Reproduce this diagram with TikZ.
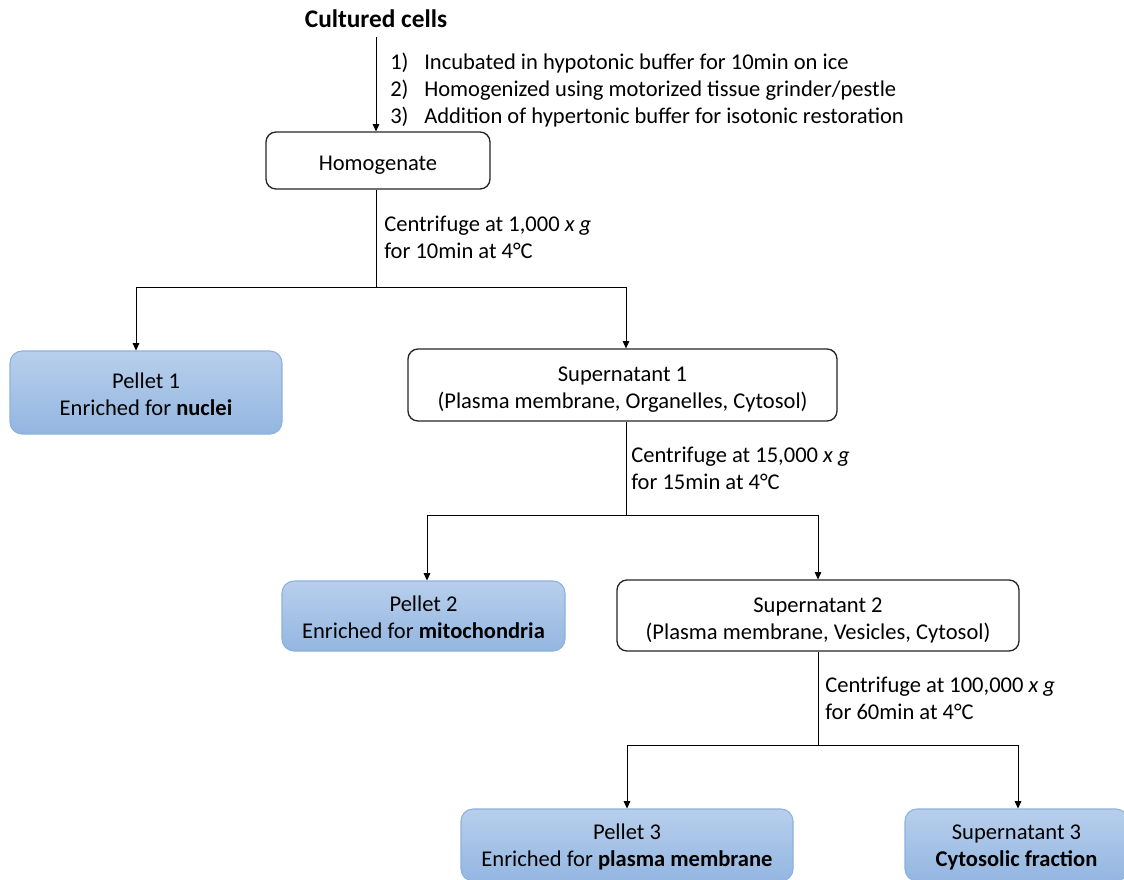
\documentclass[tikz,border=0pt]{standalone}
\usepackage{fontspec}
\setmainfont{Carlito}
\usetikzlibrary{arrows.meta}
\definecolor{ptop}{RGB}{184,207,236}
\definecolor{pbot}{RGB}{147,182,225}
\definecolor{pborder}{RGB}{140,177,222}
\newcommand{\lowerstrut}{\rule{0pt}{18.5pt}}
\newcommand{\pelstrut}{\rule{0pt}{14pt}}
\begin{document}
\begin{tikzpicture}[x=0.75pt,y=-0.75pt,
  txt/.style={font=\fontsize{16.9}{20.25}\selectfont, inner sep=0pt},
  box/.style={txt, draw=black!85, line width=1pt, rounded corners=7.5pt, fill=white, align=center},
  pel/.style={txt, draw=pborder, line width=0.8pt, rounded corners=9pt, top color=ptop, bottom color=pbot, align=center},
  arr/.style={-{Triangle[length=5.5pt,width=5pt]}, line width=0.6pt},
  ln/.style={line width=0.6pt},
  lbl/.style={txt, anchor=west, align=left}]
\useasboundingbox (0,0) rectangle (1124,879);
\clip (0,0) rectangle (1124,879);

% top
\node[font=\fontsize{19}{23}\selectfont\bfseries, inner sep=0pt] (cc) at (376,19) {Cultured cells};
\coordinate (a0) at (376,37);
\node[box, minimum width=168pt, minimum height=42.75pt] (hom) at (378,160.5) {\lowerstrut Homogenate};
\draw[arr] (a0) -- (a0 |- hom.north);
\node[lbl] (steps) at (390,90) {\makebox[25.5pt][l]{1)}Incubated in hypotonic buffer for 10min on ice\\
\makebox[25.5pt][l]{2)}Homogenized using motorized tissue grinder/pestle\\
\makebox[25.5pt][l]{3)}Addition of hypertonic buffer for isotonic restoration};

% step 1
\node[lbl] (c1) at (384,237) {Centrifuge at 1,000 \textit{x g}\\for 10min at 4°C};
\coordinate (s1) at (376,287);
\coordinate (s1l) at (136,287);
\coordinate (s1r) at (626,287);
\node[pel, minimum width=204pt, minimum height=62.25pt] (p1) at (146,392.5) {\pelstrut Pellet 1\\Enriched for \textbf{nuclei}};
\node[box, minimum width=321.75pt, minimum height=54pt] (su1) at (622.5,385) {\lowerstrut Supernatant 1\\(Plasma membrane, Organelles, Cytosol)};
\draw[ln] (hom.south -| s1) -- (s1);
\draw[ln] (s1l) -- (s1r);
\draw[arr] (s1l) -- (s1l |- p1.north);
\draw[arr] (s1r) -- (s1r |- su1.north);

% step 2
\node[lbl] (c2) at (631,468) {Centrifuge at 15,000 \textit{x g}\\for 15min at 4°C};
\coordinate (s2) at (626,515);
\coordinate (s2l) at (427,515);
\coordinate (s2r) at (818,515);
\node[pel, minimum width=212.25pt, minimum height=52.5pt] (p2) at (423.5,616) {\pelstrut Pellet 2\\Enriched for \textbf{mitochondria}};
\node[box, minimum width=301.5pt, minimum height=53.25pt] (su2) at (818,615.5) {\lowerstrut Supernatant 2\\(Plasma membrane, Vesicles, Cytosol)};
\draw[ln] (su1.south -| s2) -- (s2);
\draw[ln] (s2l) -- (s2r);
\draw[arr] (s2l) -- (s2l |- p2.north);
\draw[arr] (s2r) -- (s2r |- su2.north);

% step 3
\node[lbl] (c3) at (825,698) {Centrifuge at 100,000 \textit{x g}\\for 60min at 4°C};
\coordinate (s3) at (818,745);
\coordinate (s3l) at (627,745);
\coordinate (s3r) at (1018,745);
\node[pel, minimum width=249pt, minimum height=54pt] (p3) at (627,845) {\pelstrut Pellet 3\\Enriched for \textbf{plasma membrane}};
\node[pel, minimum width=167.25pt, minimum height=54pt] (su3) at (1016.5,845) {\pelstrut Supernatant 3\\\textbf{Cytosolic fraction}};
\draw[ln] (su2.south -| s3) -- (s3);
\draw[ln] (s3l) -- (s3r);
\draw[arr] (s3l) -- (s3l |- p3.north);
\draw[arr] (s3r) -- (s3r |- su3.north);
\end{tikzpicture}
\end{document}
